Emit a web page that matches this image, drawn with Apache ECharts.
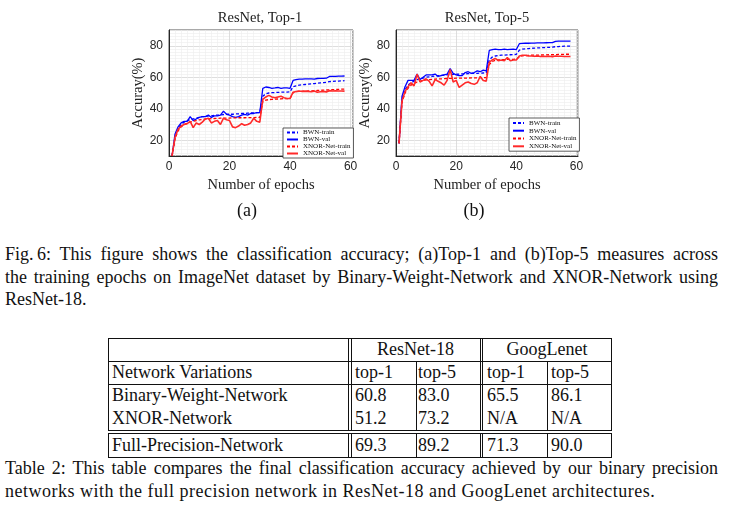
<!DOCTYPE html>
<html><head><meta charset="utf-8">
<script src="https://cdn.jsdelivr.net/npm/echarts@6/dist/echarts.min.js"></script>
<style>
html,body{margin:0;padding:0;background:#fff;}
body{width:730px;height:506px;position:relative;overflow:hidden;font-family:"Liberation Serif",serif;color:#111;}
.abs{position:absolute;white-space:nowrap;}
.ln{position:absolute;left:5px;width:713px;font-size:18px;line-height:22px;white-space:nowrap;text-align:justify;text-align-last:justify;}
.ln.last{text-align:left;text-align-last:left;}
.hl{position:absolute;height:1px;background:#111;}
.vl{position:absolute;width:1px;background:#111;}
.cell{position:absolute;font-size:18px;line-height:23px;white-space:nowrap;}
</style>
</head><body>
<div id="chart" style="position:absolute;left:0;top:0;width:730px;height:225px;"></div>
<div class="abs" style="left:217px;top:199px;width:60px;text-align:center;font-size:18px;line-height:22px;">(a)</div>
<div class="abs" style="left:444px;top:199px;width:60px;text-align:center;font-size:18px;line-height:22px;">(b)</div>
<div class="ln" style="top:243px;">Fig.&#8201;6: This figure shows the classification accuracy; (a)Top-1 and (b)Top-5 measures across</div>
<div class="ln" style="top:265.5px;">the training epochs on ImageNet dataset by Binary-Weight-Network and XNOR-Network using</div>
<div class="ln last" style="top:288px;">ResNet-18.</div>
<div id="table"></div>
<div class="ln" style="top:457px;">Table 2: This table compares the final classification accuracy achieved by our binary precision</div>
<div class="ln last" style="top:480px;letter-spacing:0.5px;">networks with the full precision network in ResNet-18 and GoogLenet architectures.</div>
<script>
// ---------------- data ----------------
const epochs = [1,2,3,4,5,6,7,8,9,10,11,12,13,14,15,16,17,18,19,20,21,22,23,24,25,26,27,28,29,30,31,32,33,34,35,36,37,38,39,40,41,42,43,44,45,46,47,48,49,50,51,52,53,54,55,56,57,58];
const seriesNames = ['BWN-train','BWN-val','XNOR-Net-train','XNOR-Net-val'];
const xTicks = [0,20,40,60];
const yTicks = [20,40,60,80];

const top1BwnTrain = [10,22,27,30,31.5,32.5,33,33.5,34,34.5,35,35,35.5,35.5,35.8,36,36,36.3,36.5,36.5,36.5,36.7,36.8,37,37,37.2,37.3,37.4,37.5,37.6,48,49.5,50,50.2,50.3,50.4,50.5,50.5,50.6,50.7,54,54.6,55,55.2,55.4,55.6,55.8,56,56.2,56.4,56.6,56.8,57.2,57.4,57.5,57.6,57.7,57.8];
const top1BwnVal = [10,24,28.5,31,32,32,35,32.5,33.5,34.5,35,35,36,34.5,35.5,35.5,36,38.5,36.5,36,35,34.5,35,36,36.5,36,37,37,37.5,37.5,53,53.8,53.5,53,53.2,53.5,53,53.3,53.2,53,58,58.5,58.8,58.8,59,59,59,58.8,59.2,59.3,59.3,59.4,60.5,60.6,60.6,60.7,60.7,60.8];
const top1XnorTrain = [10,21,26,28.5,30,30.8,31.5,32,32.5,33,33.2,33.5,33.6,33.7,33.8,33.9,34,34,34.1,34.1,34.2,34.2,34.3,34.3,34.3,34.4,34.4,34.4,34.5,34.5,44.5,45.5,45.8,46,46.1,46.2,46.3,46.4,46.4,46.5,50.2,50.8,51,51.1,51.2,51.3,51.4,51.5,51.6,51.7,51.8,51.9,52,52.1,52.2,52.3,52.4,52.5];
const top1XnorVal = [10,22,27,29,30,30.5,32,28,31,30,31.5,33.5,34,31,32,32.5,30,34,33,32.5,28.5,28,29,30.5,29.5,30,31,34,32,31.5,46,47.5,48.5,47.5,47,47.5,48,47,46.5,46.5,50.5,51,51.3,51,51.2,51,50.8,51.2,50.5,50.8,51,50.7,51.5,51.3,51.4,51.3,51.3,51.2];

const top5BwnTrain = [18,46,52,55,56.5,57.5,58.5,59,59.5,60,60.3,60.5,60.8,61,61.2,61.4,61.5,61.7,61.8,61.9,62,62.1,62.2,62.3,62.4,62.5,62.5,62.6,62.7,62.8,71,72.8,73.5,73.8,74,74.1,74.2,74.3,74.4,74.5,77.2,77.8,78,78.2,78.4,78.5,78.6,78.7,78.8,78.9,79,79.1,79.4,79.5,79.6,79.7,79.8,79.8];
const top5BwnVal = [18,48,54,58,58,58,62,58.5,60,61.5,61.5,61.5,62,60.5,61,61.5,62,65.5,62.5,61.5,61,61,63,63.5,62.5,63,64,63.5,64.5,64,77,77.5,77.8,77.5,77.6,77.8,77.5,77.7,77.8,77.6,81.3,81.5,81.6,81.6,81.7,81.7,81.8,81.8,81.8,81.9,82,82,82.8,82.9,82.9,83,83,83];
const top5XnorTrain = [18,44,50,53,55,56,57,57.5,58,58.3,58.5,58.7,58.8,59,59,59.1,59.2,59.3,59.3,59.4,59.4,59.5,59.5,59.5,59.6,59.6,59.6,59.7,59.7,59.7,68,70,70.7,71,71.1,71.2,71.3,71.4,71.4,71.5,73,73.6,73.8,73.9,74,74,74.1,74.1,74.2,74.2,74.3,74.3,74.4,74.5,74.5,74.6,74.6,74.6];
const top5XnorVal = [18,45,51,54,56.5,54.5,62,57,58,59,57.5,54.5,58.5,57.5,56.5,55,58,65,57,58,53.5,55,56.5,57,56,55.5,56.5,60.5,58,57.5,69.5,71,72,70.5,71,70.5,72.5,70.5,71,71,73.5,74,74,73.5,73.5,73.3,73.5,73.2,73.3,73.2,73.3,73,73.5,73.3,73.3,73.2,73.2,73.2];

const tableGroups = ['ResNet-18','GoogLenet'];
const tableSubHeader = ['Network Variations','top-1','top-5','top-1','top-5'];
const tableRows = [
  ['Binary-Weight-Network','60.8','83.0','65.5','86.1'],
  ['XNOR-Network','51.2','73.2','N/A','N/A']
];
const tableFull = ['Full-Precision-Network','69.3','89.2','71.3','90.0'];

// ---------------- chart ----------------
const SERIF = '"Liberation Serif", "Times New Roman", serif';
const SANS = '"Liberation Sans", Arial, sans-serif';
const AX = '#262626';

function pairs(vals){ return epochs.map((e,i)=>[e, vals[i]]); }

function makeX(gi, max){
  return {
    gridIndex: gi, type:'value', min:0, max:max, interval:20,
    name:'Number of epochs', nameLocation:'middle', nameGap:19,
    nameTextStyle:{fontFamily:SERIF, fontSize:14.5, color:'#222'},
    axisLine:{show:true, onZero:false, lineStyle:{color:AX, width:1}},
    axisTick:{show:false},
    axisLabel:{show:true, margin:5, fontFamily:SANS, fontSize:12, color:AX, showMaxLabel:false,
      formatter: v => xTicks.indexOf(v) >= 0 ? String(v) : ''},
    splitLine:{show:true, lineStyle:{color:'#d6d6d6', width:0.8}},
    minorTick:{show:false, splitNumber:10},
    minorSplitLine:{show:true, lineStyle:{color:'#ededed', width:0.6}}
  };
}
function makeY(gi){
  return {
    gridIndex: gi, type:'value', min:10, max:90, interval:10,
    name:'Accuray(%)', nameLocation:'middle', nameGap:21,
    nameTextStyle:{fontFamily:SERIF, fontSize:14.5, color:'#222'},
    axisLine:{show:true, lineStyle:{color:AX, width:1}},
    axisTick:{show:false},
    axisLabel:{show:true, margin:6, fontFamily:SANS, fontSize:12, color:AX,
      formatter: v => yTicks.indexOf(v) >= 0 ? String(v) : ''},
    splitLine:{show:true, lineStyle:{color:['#ededed','#d6d6d6'], width:0.8}},
    minorTick:{show:false, splitNumber:5},
    minorSplitLine:{show:true, lineStyle:{color:'#ededed', width:0.6}}
  };
}
const styles = [
  {color:'#0000ff', type:[3,2], width:1.3},
  {color:'#0000ff', type:'solid', width:1.3},
  {color:'#ff0000', type:[3,2], width:1.3},
  {color:'#ff2a2a', type:'solid', width:1.6}
];
function makeSeries(gi, datas){
  return datas.map((d,i)=>({
    name: seriesNames[i], type:'line', xAxisIndex:gi, yAxisIndex:gi,
    data: pairs(d), symbol:'none', showSymbol:false, smooth:false,
    lineStyle:{color:styles[i].color, type:styles[i].type, width:styles[i].width},
    itemStyle:{color:styles[i].color}, z: 2+i
  }));
}
function makeLegend(left, top, lh){
  return {
    show:true, orient:'vertical', left:left, top:top,
    data: seriesNames,
    itemWidth:11, itemHeight:lh, itemGap:0,
    padding:[1,3,1,3],
    backgroundColor:'#fff', borderColor:'#333', borderWidth:0.8,
    itemStyle:{opacity:0, color:'transparent', borderWidth:0},
    textStyle:{fontFamily:SERIF, fontSize:7, color:'#111', lineHeight:lh}
  };
}

const chart = echarts.init(document.getElementById('chart'), null, {renderer:'canvas'});
const option = {
  animation:false,
  backgroundColor:'#fff',
  graphic:[
    {type:'text', x:260, y:18, style:{text:'ResNet, Top-1', font:'14.5px "Liberation Serif"', fill:'#222', align:'center', verticalAlign:'middle', textAlign:'center', textVerticalAlign:'middle'}},
    {type:'text', x:487, y:18, style:{text:'ResNet, Top-5', font:'14.5px "Liberation Serif"', fill:'#222', align:'center', verticalAlign:'middle', textAlign:'center', textVerticalAlign:'middle'}}
  ],
  grid:[
    {left:169, top:30, width:184, height:126, show:true, borderColor:AX, borderWidth:0.8, backgroundColor:'transparent', containLabel:false},
    {left:396, top:30, width:182, height:126, show:true, borderColor:AX, borderWidth:0.8, backgroundColor:'transparent', containLabel:false}
  ],
  xAxis:[makeX(0, 60.8), makeX(1, 60.5)],
  yAxis:[makeY(0), makeY(1)],
  legend:[makeLegend(283, 128, 5.6), makeLegend(509, 118, 7.8)],
  series:[].concat(
    makeSeries(0, [top1BwnTrain, top1BwnVal, top1XnorTrain, top1XnorVal]),
    makeSeries(1, [top5BwnTrain, top5BwnVal, top5XnorTrain, top5XnorVal])
  )
};
chart.setOption(option);

// ---------------- table ----------------
(function(){
  const t = document.getElementById('table');
  function hl(x1,x2,y){ const d=document.createElement('div'); d.className='hl'; d.style.left=x1+'px'; d.style.width=(x2-x1+1)+'px'; d.style.top=y+'px'; t.appendChild(d); }
  function vl(x,y1,y2){ const d=document.createElement('div'); d.className='vl'; d.style.left=x+'px'; d.style.top=y1+'px'; d.style.height=(y2-y1+1)+'px'; t.appendChild(d); }
  function cell(txt,x,yc,center,w){ const d=document.createElement('div'); d.className='cell'; d.textContent=txt; d.style.top=(yc-11.5)+'px';
    if(center){ d.style.left=x+'px'; d.style.width=w+'px'; d.style.textAlign='center'; } else { d.style.left=x+'px'; } t.appendChild(d); }
  const L=108, R=611, colL=[108,351,416,482,547];
  const y0=338, y1=361, y2=384, y3=430, y4=433, y5=457;
  hl(L,R,y0); hl(L,R,y1); hl(L,R,y2); hl(L,R,y3); hl(L,R,y4); hl(L,R,y5);
  vl(L,y0,y3); vl(R,y0,y3); vl(348,y0,y3); vl(351,y0,y3); vl(480,y0,y3); vl(482,y0,y3);
  vl(416,y1,y3); vl(547,y1,y3);
  vl(L,y4,y5); vl(R,y4,y5); vl(348,y4,y5); vl(351,y4,y5); vl(480,y4,y5); vl(482,y4,y5); vl(416,y4,y5); vl(547,y4,y5);
  cell(tableGroups[0], 351, 349.5, true, 129);
  cell(tableGroups[1], 483, 349.5, true, 128);
  const pad=[4,4,2,5,4];
  tableSubHeader.forEach((s,i)=>cell(s, colL[i]+pad[i], 372.5));
  tableRows.forEach((r,ri)=>r.forEach((s,i)=>cell(s, colL[i]+pad[i], 395.5+ri*23)));
  tableFull.forEach((s,i)=>cell(s, colL[i]+pad[i], 445));
})();
</script>
</body></html>
